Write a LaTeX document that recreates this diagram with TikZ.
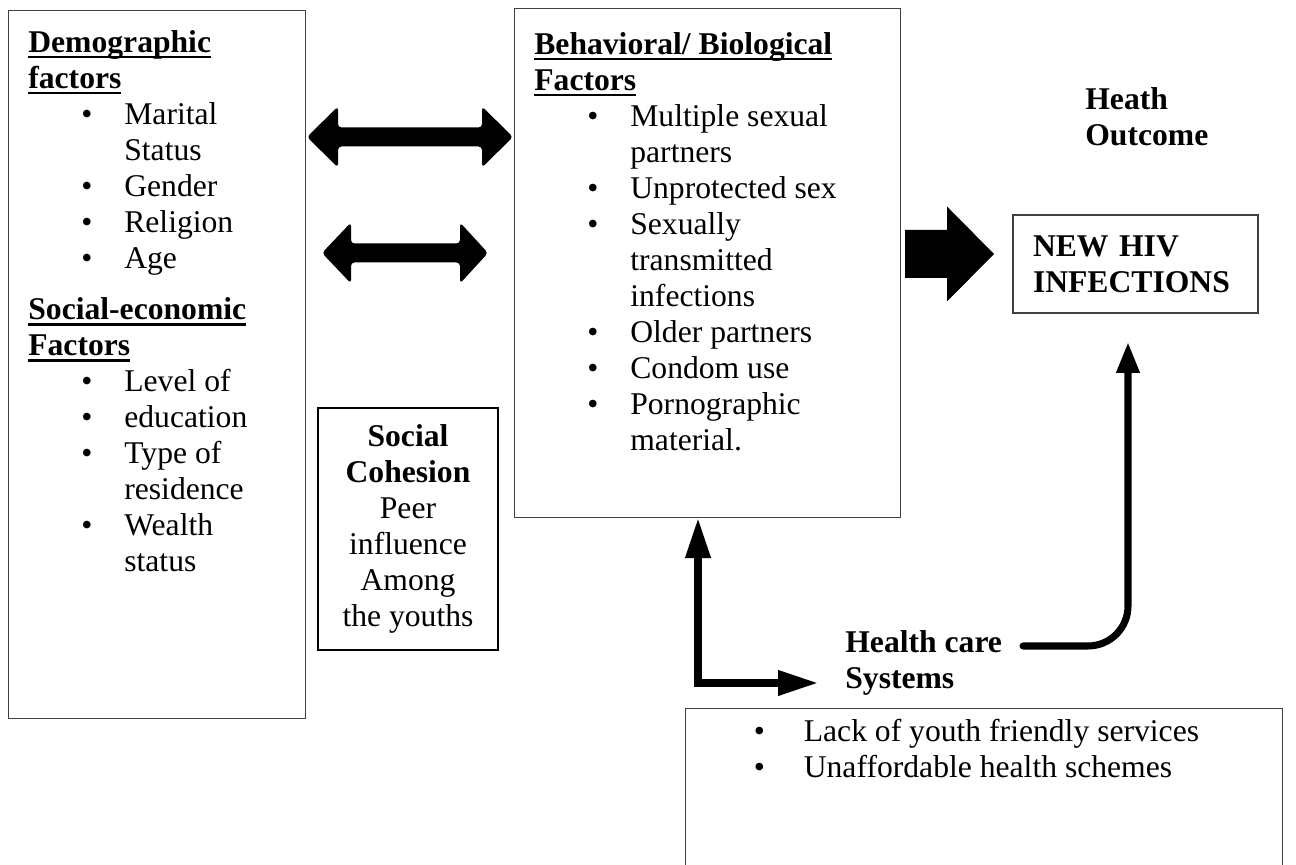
\documentclass[tikz,border=0pt]{standalone}
\usepackage{fontspec}
\setmainfont{Liberation Serif}
\usetikzlibrary{arrows.meta,positioning,calc}
\newcommand{\bul}{\hspace*{1.06cm}\makebox[0.86cm][l]{\textbullet}}
\newcommand{\cnt}{\hspace*{1.92cm}}
\newcommand{\undl}[1]{\leavevmode\setbox0\hbox{#1}\rlap{\rule[-3.5pt]{\wd0}{1.3pt}}\box0}

\begin{document}
\begin{tikzpicture}[
    font=\fontsize{18}{20.5}\selectfont,
    box/.style={draw=black!75, line width=0.6pt, inner sep=0pt},
    txt/.style={align=left, inner sep=0pt, anchor=north west},
    fatline/.style={line width=4pt, black}
  ]
  \clip (0,0) rectangle (25.92,17.30);

  % boxes
  \node[box, anchor=north west, minimum width=5.94cm, minimum height=14.16cm] (demo) at (0.16,17.10) {};
  \node[box, anchor=north west, minimum width=7.72cm, minimum height=10.18cm] (behav) at (10.28,17.14) {};
  \node[box, anchor=north west, minimum width=11.94cm, minimum height=4cm] (hcbox) at (13.70,3.14) {};
  \node[box, minimum width=4.9cm, minimum height=1.96cm, inner xsep=0.4cm, text width=4.1cm, align=left, font=\fontsize{18}{20.5}\selectfont\bfseries] (hiv) at (22.71,12.02) {NEW HIV\\INFECTIONS};
  \node[draw, line width=1pt, minimum width=3.6cm, minimum height=4.84cm, align=center, inner sep=0pt] (social) at (8.16,6.72) {\textbf{Social}\\\textbf{Cohesion}\\Peer\\influence\\Among\\the youths};

  % texts
  \node[txt] (demotxt) at (0.56,16.70) {\undl{\textbf{Demographic}}\\
    \undl{\textbf{factors}}\\
    \bul Marital\\
    \cnt Status\\
    \bul Gender\\
    \bul Religion\\
    \bul Age\\[0.3cm]
    \undl{\textbf{Social-economic}}\\
    \undl{\textbf{Factors}}\\
    \bul Level of\\
    \bul education\\
    \bul Type of\\
    \cnt residence\\
    \bul Wealth\\
    \cnt status};
  \node[txt] (behavtxt) at (10.68,16.66) {\undl{\textbf{Behavioral/ Biological}}\\
    \undl{\textbf{Factors}}\\
    \bul Multiple sexual\\
    \cnt partners\\
    \bul Unprotected sex\\
    \bul Sexually\\
    \cnt transmitted\\
    \cnt infections\\
    \bul Older partners\\
    \bul Condom use\\
    \bul Pornographic\\
    \cnt material.};
  \node[txt, font=\fontsize{18}{20.5}\selectfont\bfseries] (outcome) at (21.70,15.56) {Heath\\Outcome};
  \node[txt, font=\fontsize{18}{20.5}\selectfont\bfseries] (hcs) at (16.90,4.70) {Health care\\Systems};
  \node[txt] (services) at (15.07,2.92) {\makebox[1cm][l]{\textbullet}Lack of youth friendly services\\
    \makebox[1cm][l]{\textbullet}Unaffordable health schemes};

  % block arrows
  \fill[rounded corners=2pt] (6.14,14.56) -- (6.76,15.17) -- (6.76,14.75) -- (9.64,14.75) -- (9.64,15.17) -- (10.26,14.56) -- (9.64,13.95) -- (9.64,14.37) -- (6.76,14.37) -- (6.76,13.95) -- cycle;
  \fill[rounded corners=2pt] (6.44,12.24) -- (7.02,12.85) -- (7.02,12.43) -- (9.20,12.43) -- (9.20,12.85) -- (9.76,12.24) -- (9.20,11.63) -- (9.20,12.05) -- (7.02,12.05) -- (7.02,11.63) -- cycle;
  \fill (18.10,12.70) -- (18.94,12.70) -- (18.94,13.17) -- (19.88,12.22) -- (18.94,11.27) -- (18.94,11.74) -- (18.10,11.74) -- cycle;

  % connectors
  \coordinate (upfoot) at (13.96,3.64);
  \coordinate (hcend) at (16.36,3.64);
  \draw[fatline, {Triangle[length=0.8cm,width=0.48cm]}-{Triangle[length=0.8cm,width=0.48cm]}] (behav.south -| upfoot) |- (hcend);

  \coordinate (curvestart) at (20.46,4.38);
  \coordinate (curveend) at (22.56,10.46);
  \draw[fatline, line cap=round, rounded corners=0.8cm, -{Triangle[length=0.62cm,width=0.44cm]}] (curvestart) -| (curveend);
\end{tikzpicture}
\end{document}
